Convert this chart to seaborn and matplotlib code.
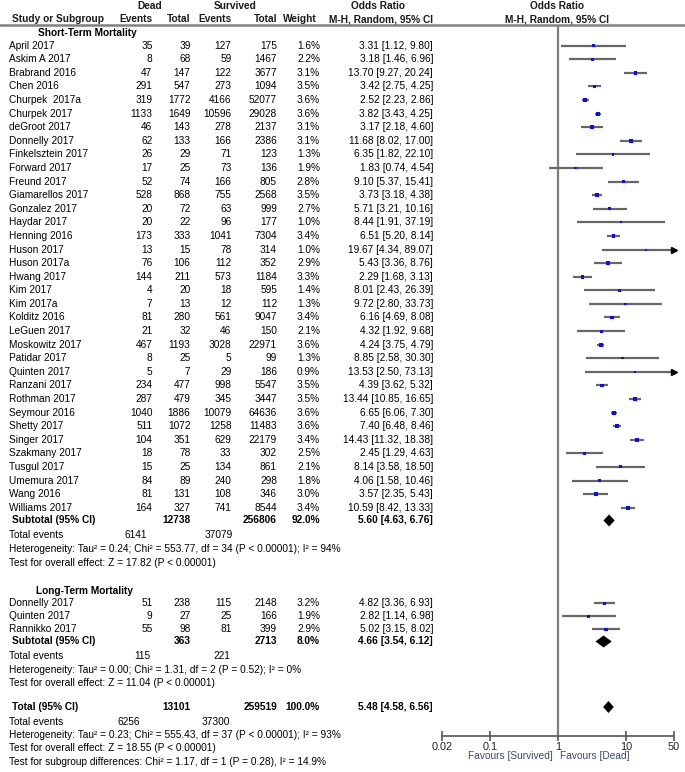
import numpy as np
import pandas as pd
import matplotlib
matplotlib.use("Agg")
import matplotlib.pyplot as plt
import matplotlib.transforms as mtransforms
from matplotlib.ticker import NullLocator
import seaborn as sns

# ---- data: short-term mortality ----
st_names = ['April 2017', 'Askim A 2017', 'Brabrand 2016', 'Chen 2016', 'Churpek  2017a',
            'Churpek 2017', 'deGroot 2017', 'Donnelly 2017', 'Finkelsztein 2017', 'Forward 2017',
            'Freund 2017', 'Giamarellos 2017', 'Gonzalez 2017', 'Haydar 2017', 'Henning 2016',
            'Huson 2017', 'Huson 2017a', 'Hwang 2017', 'Kim 2017', 'Kim 2017a', 'Kolditz 2016',
            'LeGuen 2017', 'Moskowitz 2017', 'Patidar 2017', 'Quinten 2017', 'Ranzani 2017',
            'Rothman 2017', 'Seymour 2016', 'Shetty 2017', 'Singer 2017', 'Szakmany 2017',
            'Tusgul 2017', 'Umemura 2017', 'Wang 2016', 'Williams 2017']
st_dead_ev = [35, 8, 47, 291, 319, 1133, 46, 62, 26, 17, 52, 528, 20, 20, 173, 13, 76, 144,
              4, 7, 81, 21, 467, 8, 5, 234, 287, 1040, 511, 104, 18, 15, 84, 81, 164]
st_dead_tot = [39, 68, 147, 547, 1772, 1649, 143, 133, 29, 25, 74, 868, 72, 22, 333, 15, 106,
               211, 20, 13, 280, 32, 1193, 25, 7, 477, 479, 1886, 1072, 351, 78, 25, 89, 131, 327]
st_surv_ev = [127, 59, 122, 273, 4166, 10596, 278, 166, 71, 73, 166, 755, 63, 96, 1041, 78,
              112, 573, 18, 12, 561, 46, 3028, 5, 29, 998, 345, 10079, 1258, 629, 33, 134, 240,
              108, 741]
st_surv_tot = [175, 1467, 3677, 1094, 52077, 29028, 2137, 2386, 123, 136, 805, 2568, 999, 177,
               7304, 314, 352, 1184, 595, 112, 9047, 150, 22971, 99, 186, 5547, 3447, 64636,
               11483, 22179, 302, 861, 298, 346, 8544]
st_weight = [1.6, 2.2, 3.1, 3.5, 3.6, 3.6, 3.1, 3.1, 1.3, 1.9, 2.8, 3.5, 2.7, 1.0, 3.4, 1.0,
             2.9, 3.3, 1.4, 1.3, 3.4, 2.1, 3.6, 1.3, 0.9, 3.5, 3.5, 3.6, 3.6, 3.4, 2.5, 2.1, 1.8,
             3.0, 3.4]
st_or = [3.31, 3.18, 13.70, 3.42, 2.52, 3.82, 3.17, 11.68, 6.35, 1.83, 9.10, 3.73, 5.71, 8.44,
         6.51, 19.67, 5.43, 2.29, 8.01, 9.72, 6.16, 4.32, 4.24, 8.85, 13.53, 4.39, 13.44, 6.65,
         7.40, 14.43, 2.45, 8.14, 4.06, 3.57, 10.59]
st_lo = [1.12, 1.46, 9.27, 2.75, 2.23, 3.43, 2.18, 8.02, 1.82, 0.74, 5.37, 3.18, 3.21, 1.91,
         5.20, 4.34, 3.36, 1.68, 2.43, 2.80, 4.69, 1.92, 3.75, 2.58, 2.50, 3.62, 10.85, 6.06,
         6.48, 11.32, 1.29, 3.58, 1.58, 2.35, 8.42]
st_hi = [9.80, 6.96, 20.24, 4.25, 2.86, 4.25, 4.60, 17.00, 22.10, 4.54, 15.41, 4.38, 10.16,
         37.19, 8.14, 89.07, 8.76, 3.13, 26.39, 33.73, 8.08, 9.68, 4.79, 30.30, 73.13, 5.32,
         16.65, 7.30, 8.46, 18.38, 4.63, 18.50, 10.46, 5.43, 13.33]

# ---- data: long-term mortality ----
lt_names = ['Donnelly 2017', 'Quinten 2017', 'Rannikko 2017']
lt_dead_ev = [51, 9, 55]
lt_dead_tot = [238, 27, 98]
lt_surv_ev = [115, 25, 81]
lt_surv_tot = [2148, 166, 399]
lt_weight = [3.2, 1.9, 2.9]
lt_or = [4.82, 2.82, 5.02]
lt_lo = [3.36, 1.14, 3.15]
lt_hi = [6.93, 6.98, 8.02]

# subtotals: dead total, survived total, weight, OR, lo, hi
st_sub = [12738, 256806, 92.0, 5.60, 4.63, 6.76]
lt_sub = [363, 2713, 8.0, 4.66, 3.54, 6.12]
all_sub = [13101, 259519, 100.0, 5.48, 4.58, 6.56]
st_events = [6141, 37079]
lt_events = [115, 221]
all_events = [6256, 37300]

st_notes = ['Heterogeneity: Tau² = 0.24; Chi² = 553.77, df = 34 (P < 0.00001); I² = 94%',
            'Test for overall effect: Z = 17.82 (P < 0.00001)']
lt_notes = ['Heterogeneity: Tau² = 0.00; Chi² = 1.31, df = 2 (P = 0.52); I² = 0%',
            'Test for overall effect: Z = 11.04 (P < 0.00001)']
all_notes = ['Heterogeneity: Tau² = 0.23; Chi² = 555.43, df = 37 (P < 0.00001); I² = 93%',
             'Test for overall effect: Z = 18.55 (P < 0.00001)',
             'Test for subgroup differences: Chi² = 1.17, df = 1 (P = 0.28), I² = 14.9%']

xticks = [0.02, 0.1, 1, 10, 50]
xtick_labels = ['0.02', '0.1', '1', '10', '50']

# ---- style ----
sns.set_theme(style="white")
plt.rcParams['font.family'] = ['Liberation Sans', 'DejaVu Sans']
FS = 7.3

W, H = 685, 772
fig = plt.figure(figsize=(W / 100, H / 100), dpi=100)
fig.patch.set_facecolor('white')

# forest axes: y data = pixel row from top
px0, px1 = 442, 674
ytop, ybot = 25, 736
ax = fig.add_axes([px0 / W, 1 - ybot / H, (px1 - px0) / W, (ybot - ytop) / H])
ax.set_xscale('log')
ax.set_xlim(0.02, 50)
ax.set_ylim(ybot, ytop)
ax.set_facecolor('none')

# row layout
st_y = 45.7 + 13.59 * np.arange(len(st_names))
lt_y = 603.5 + 13.0 * np.arange(len(lt_names))
y_st_sub, y_lt_sub, y_all = 520.5, 641.5, 707.0

st_df = pd.DataFrame({'name': st_names, 'de': st_dead_ev, 'dt': st_dead_tot, 'se': st_surv_ev,
                      'stt': st_surv_tot, 'w': st_weight, 'or': st_or, 'lo': st_lo, 'hi': st_hi,
                      'y': st_y})
lt_df = pd.DataFrame({'name': lt_names, 'de': lt_dead_ev, 'dt': lt_dead_tot, 'se': lt_surv_ev,
                      'stt': lt_surv_tot, 'w': lt_weight, 'or': lt_or, 'lo': lt_lo, 'hi': lt_hi,
                      'y': lt_y})
df = pd.concat([st_df, lt_df], ignore_index=True)

# CI lines, arrows for truncated CIs
ax.axvline(1, color='#7f7f7f', lw=1.6, zorder=1)
ax.hlines(df['y'], df['lo'], np.minimum(df['hi'], 50), color='#666666', lw=1.6, zorder=2)
cut = df[df['hi'] > 50]
ax.plot(np.full(len(cut), 50.0), cut['y'], linestyle='none', marker='>', color='black',
        ms=4.5, clip_on=False, zorder=3)
sns.scatterplot(data=df, x='or', y='y', size='w', sizes=(2, 8), marker='s', color='#0a0aff',
                edgecolor='none', legend=False, ax=ax, zorder=4)

# diamonds
for sub, yy in [(st_sub, y_st_sub), (lt_sub, y_lt_sub), (all_sub, y_all)]:
    o, lo, hi = sub[3], sub[4], sub[5]
    ax.fill([lo, o, hi, o], [yy, yy - 6, yy, yy + 6], color='black', lw=0, zorder=4)

# axis styling
for s in ['left', 'top', 'right']:
    ax.spines[s].set_visible(False)
ax.spines['bottom'].set_color('#555555')
ax.spines['bottom'].set_linewidth(1.2)
ax.set_xticks(xticks)
ax.set_xticklabels(xtick_labels)
ax.xaxis.set_minor_locator(NullLocator())
ax.set_yticks([])
ax.tick_params(axis='x', direction='inout', length=7, width=1.2, color='#555555',
               labelsize=FS + 0.5, pad=1, labelcolor='#222222', bottom=True)
ax.set_xlabel('')
ax.set_ylabel('')
ax.grid(False)

fav_c = '#3b4a70'
ax.text(0.83, 756.5, 'Favours [Survived]', ha='right', va='center', fontsize=FS, color=fav_c,
        clip_on=False)
ax.text(1.08, 756.5, 'Favours [Dead]', ha='left', va='center', fontsize=FS, color=fav_c,
        clip_on=False)

# ---- table text ----
tr = mtransforms.blended_transform_factory(fig.transFigure, ax.transData)


def put(x, y, s, ha='left', bold=False, color='black'):
    fig.text(x / W, y, s, transform=tr, ha=ha, va='center', fontsize=FS,
             fontweight='bold' if bold else 'normal', color=color)


# header
hdr_c = '#1a1a1a'
put(150, 6, 'Dead', 'center', True, hdr_c)
put(235, 6, 'Survived', 'center', True, hdr_c)
put(378, 6, 'Odds Ratio', 'center', True, hdr_c)
put(557, 6, 'Odds Ratio', 'center', True, hdr_c)
put(11.5, 19.5, 'Study or Subgroup', 'left', True, hdr_c)
put(152.5, 19.5, 'Events', 'right', True, hdr_c)
put(190.5, 19.5, 'Total', 'right', True, hdr_c)
put(231.5, 19.5, 'Events', 'right', True, hdr_c)
put(277, 19.5, 'Total', 'right', True, hdr_c)
put(317, 19.5, 'Weight', 'right', True, hdr_c)
put(433, 19.5, 'M-H, Random, 95% CI', 'right', True, hdr_c)
put(557, 19.5, 'M-H, Random, 95% CI', 'center', True, hdr_c)
fig.add_artist(plt.Line2D([0, 1], [1 - 24.5 / H] * 2, transform=fig.transFigure,
                          color='#808080', lw=1.8))

cols_r = [152.5, 190.5, 231.5, 277, 320, 433]


def study_rows(d):
    for _, r in d.iterrows():
        put(9, r['y'], r['name'])
        put(cols_r[0], r['y'], str(r['de']), 'right')
        put(cols_r[1], r['y'], str(r['dt']), 'right')
        put(cols_r[2], r['y'], str(r['se']), 'right')
        put(cols_r[3], r['y'], str(r['stt']), 'right')
        put(cols_r[4], r['y'], f"{r['w']:.1f}%", 'right')
        put(cols_r[5], r['y'], f"{r['or']:.2f} [{r['lo']:.2f}, {r['hi']:.2f}]", 'right')


def sub_row(y, label, sub):
    put(11.5, y, label, 'left', True)
    put(cols_r[1], y, str(sub[0]), 'right', True)
    put(cols_r[3], y, str(sub[1]), 'right', True)
    put(cols_r[4], y, f"{sub[2]:.1f}%", 'right', True)
    put(cols_r[5], y, f"{sub[3]:.2f} [{sub[4]:.2f}, {sub[5]:.2f}]", 'right', True)


def events_row(y, ev, xr):
    put(9, y, 'Total events')
    put(xr[0], y, str(ev[0]), 'right')
    put(xr[1], y, str(ev[1]), 'right')


put(37.5, 33, 'Short-Term Mortality', 'left', True)
study_rows(st_df)
sub_row(y_st_sub, 'Subtotal (95% CI)', st_sub)
events_row(535.5, st_events, [147, 233])
for i, s in enumerate(st_notes):
    put(9, 549 + 13.6 * i, s)

put(35.5, 591, 'Long-Term Mortality', 'left', True)
study_rows(lt_df)
sub_row(y_lt_sub, 'Subtotal (95% CI)', lt_sub)
events_row(656.5, lt_events, [150, 230])
for i, s in enumerate(lt_notes):
    put(9, 670 + 13.4 * i, s)

sub_row(y_all, 'Total (95% CI)', all_sub)
events_row(721.7, all_events, [140, 230])
for i, s in enumerate(all_notes):
    put(9, 735 + 13.4 * i, s)

fig.savefig('out.png', dpi=100)
